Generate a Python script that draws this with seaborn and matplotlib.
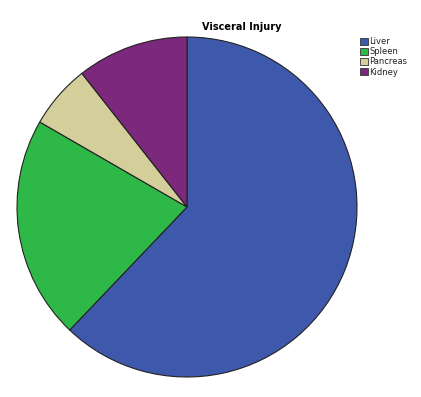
import matplotlib
matplotlib.use("Agg")
import matplotlib.pyplot as plt
import seaborn as sns
from matplotlib.patches import Patch

sns.set_style("white")
plt.rcParams['font.family'] = ['DejaVu Sans']

categories = ["Liver", "Spleen", "Pancreas", "Kidney"]
counts = [41, 14, 4, 7]
colors = ["#3e58ac", "#2eb848", "#d4cf9a", "#7c287c"]

fig = plt.figure(figsize=(4.21, 3.97), dpi=100)
ax = fig.add_axes([17/421, 20/397, 340/421, 340/397])
ax.pie(counts, colors=colors, startangle=90, counterclock=False,
       wedgeprops=dict(edgecolor="#222222", linewidth=0.8), radius=1.0)
ax.set_xlim(-1.0, 1.0)
ax.set_ylim(-1.0, 1.0)
ax.set_aspect("equal")
ax.axis("off")

fig.text(242/421, 1 - 27/397, "Visceral Injury", ha="center", va="center",
         fontsize=7.0, fontweight="bold", color="black")

handles = [Patch(facecolor=c, edgecolor="#333333", linewidth=0.6, label=l)
           for c, l in zip(colors, categories)]
fig.legend(handles=handles, loc="upper left", bbox_to_anchor=(360/421, 1 - 37/397),
           frameon=False, fontsize=6, handlelength=0.9, handleheight=0.9,
           handletextpad=0.25, labelspacing=0.15, borderaxespad=0, borderpad=0,
           labelcolor="#222222")

fig.savefig("out.png", dpi=100)
